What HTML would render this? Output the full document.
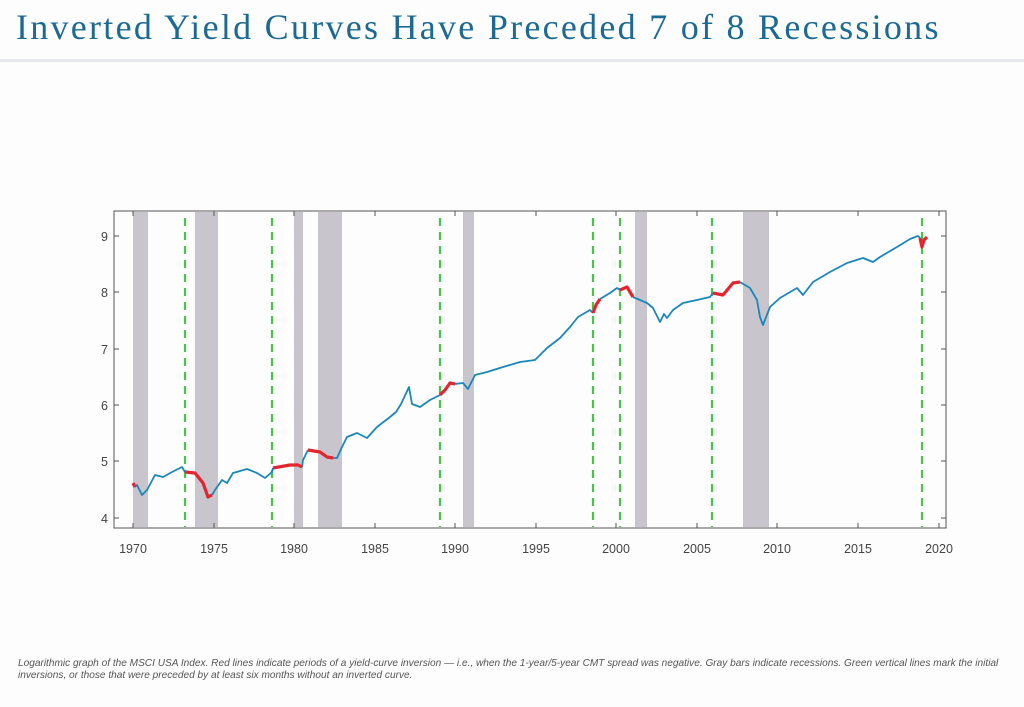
<!DOCTYPE html>
<html><head><meta charset="utf-8"><style>
body{margin:0;width:1024px;height:707px;background:#fdfdfd;overflow:hidden;position:relative;font-family:"Liberation Sans",sans-serif}
.t{position:absolute;left:16px;top:6px;font-family:"Liberation Serif",serif;font-size:36px;color:#1c6a94;letter-spacing:2.27px;white-space:nowrap}
.sep{position:absolute;left:0;top:59px;width:1024px;height:3px;background:#e6e8ec}
.cap{position:absolute;left:18px;top:658px;font-size:10.1px;font-style:italic;color:#555;line-height:12px;white-space:nowrap}
</style></head><body>
<div class="t">Inverted Yield Curves Have Preceded 7 of 8 Recessions</div>
<div class="sep"></div>
<svg width="1024" height="707" style="position:absolute;left:0;top:0">
<g fill="#c9c5cc">
<rect x="133" y="212" width="15" height="315"/><rect x="195" y="212" width="23" height="315"/>
<rect x="294" y="212" width="9" height="315"/><rect x="318" y="212" width="24" height="315"/>
<rect x="463" y="212" width="11" height="315"/><rect x="635" y="212" width="12" height="315"/>
<rect x="743" y="212" width="26" height="315"/>
</g>
<g stroke="#4cc24c" stroke-width="2.2" stroke-dasharray="8 6">
<line x1="185" y1="218" x2="185" y2="527"/><line x1="272" y1="218" x2="272" y2="527"/>
<line x1="440" y1="218" x2="440" y2="527"/><line x1="593" y1="218" x2="593" y2="527"/>
<line x1="620" y1="218" x2="620" y2="527"/><line x1="712" y1="218" x2="712" y2="527"/>
<line x1="922" y1="218" x2="922" y2="527"/>
</g>
<g fill="none" stroke="#1a87bb" stroke-width="1.8" stroke-linejoin="round">
<polyline points="135,487 137,485 142,495 147,490 155,475 163,477 172,472 182,467 185,472"/>
<polyline points="212,495 215,490 222,480 227,483 233,473 247,469 257,473 265,478 272,472 273,468"/>
<polyline points="302,467 303,460 308,450"/>
<polyline points="333,458 337,458 342,447 347,437 357,433 367,438 377,427 390,417 396,412 401,404 409,387 412,404 420,407 430,400 440,395"/>
<polyline points="455,384 463,383 468,389 475,375 487,372 503,367 520,362 535,360 547,348 560,338 570,327 578,317 590,310 593,313"/>
<polyline points="600,299 610,293 617,288 620,290"/>
<polyline points="633,297 640,300 647,303 653,308 657,316 660,322 664,314 667,318 673,310 683,303 697,300 710,297 713,293"/>
<polyline points="740,282 750,288 757,300 760,317 763,325 770,307 780,298 797,288 803,295 813,282 830,272 847,263 863,258 873,262 880,257 897,247 910,239 918,236 920,238"/>
</g>
<g fill="none" stroke="#e32530" stroke-width="3.2" stroke-linejoin="round">
<polyline points="133,483 135,487"/>
<polyline points="185,472 195,473 203,483 208,497 212,495"/>
<polyline points="273,468 290,465 298,465 302,467"/>
<polyline points="308,450 320,452 327,457 333,458"/>
<polyline points="440,395 445,390 450,383 455,384"/>
<polyline points="593,313 596,305 600,299"/>
<polyline points="620,290 627,287 633,297"/>
<polyline points="713,293 723,295 733,283 740,282"/>
<polyline points="920,238 922,247 924,240 927,237"/>
</g>
<rect x="114" y="211" width="832" height="317" fill="none" stroke="#555" stroke-width="1"/>
<g stroke="#555" stroke-width="1">
<line x1="114" y1="236" x2="119" y2="236"/><line x1="114" y1="292" x2="119" y2="292"/><line x1="114" y1="349" x2="119" y2="349"/><line x1="114" y1="405" x2="119" y2="405"/><line x1="114" y1="461" x2="119" y2="461"/><line x1="114" y1="518" x2="119" y2="518"/>
<line x1="946" y1="236" x2="941" y2="236"/><line x1="946" y1="292" x2="941" y2="292"/><line x1="946" y1="349" x2="941" y2="349"/><line x1="946" y1="405" x2="941" y2="405"/><line x1="946" y1="461" x2="941" y2="461"/><line x1="946" y1="518" x2="941" y2="518"/>
<line x1="133" y1="528" x2="133" y2="523"/><line x1="214" y1="528" x2="214" y2="523"/><line x1="294" y1="528" x2="294" y2="523"/><line x1="375" y1="528" x2="375" y2="523"/><line x1="455" y1="528" x2="455" y2="523"/><line x1="536" y1="528" x2="536" y2="523"/><line x1="616" y1="528" x2="616" y2="523"/><line x1="697" y1="528" x2="697" y2="523"/><line x1="777" y1="528" x2="777" y2="523"/><line x1="858" y1="528" x2="858" y2="523"/><line x1="939" y1="528" x2="939" y2="523"/>
<line x1="133" y1="211" x2="133" y2="216"/><line x1="214" y1="211" x2="214" y2="216"/><line x1="294" y1="211" x2="294" y2="216"/><line x1="375" y1="211" x2="375" y2="216"/><line x1="455" y1="211" x2="455" y2="216"/><line x1="536" y1="211" x2="536" y2="216"/><line x1="616" y1="211" x2="616" y2="216"/><line x1="697" y1="211" x2="697" y2="216"/><line x1="777" y1="211" x2="777" y2="216"/><line x1="858" y1="211" x2="858" y2="216"/><line x1="939" y1="211" x2="939" y2="216"/>
</g>
<g font-family="Liberation Sans,sans-serif" font-size="12.5" fill="#444" text-anchor="end">
<text x="108" y="241">9</text><text x="108" y="297">8</text><text x="108" y="354">7</text><text x="108" y="410">6</text><text x="108" y="466">5</text><text x="108" y="523">4</text>
</g>
<g font-family="Liberation Sans,sans-serif" font-size="12.5" fill="#444" text-anchor="middle">
<text x="133" y="553">1970</text><text x="214" y="553">1975</text><text x="294" y="553">1980</text><text x="375" y="553">1985</text><text x="455" y="553">1990</text><text x="536" y="553">1995</text><text x="616" y="553">2000</text><text x="697" y="553">2005</text><text x="777" y="553">2010</text><text x="858" y="553">2015</text><text x="939" y="553">2020</text>
</g>
</svg>
<div class="cap">Logarithmic graph of the MSCI USA Index. Red lines indicate periods of a yield-curve inversion — i.e., when the 1-year/5-year CMT spread was negative. Gray bars indicate recessions. Green vertical lines mark the initial<br>inversions, or those that were preceded by at least six months without an inverted curve.</div>
</body></html>
